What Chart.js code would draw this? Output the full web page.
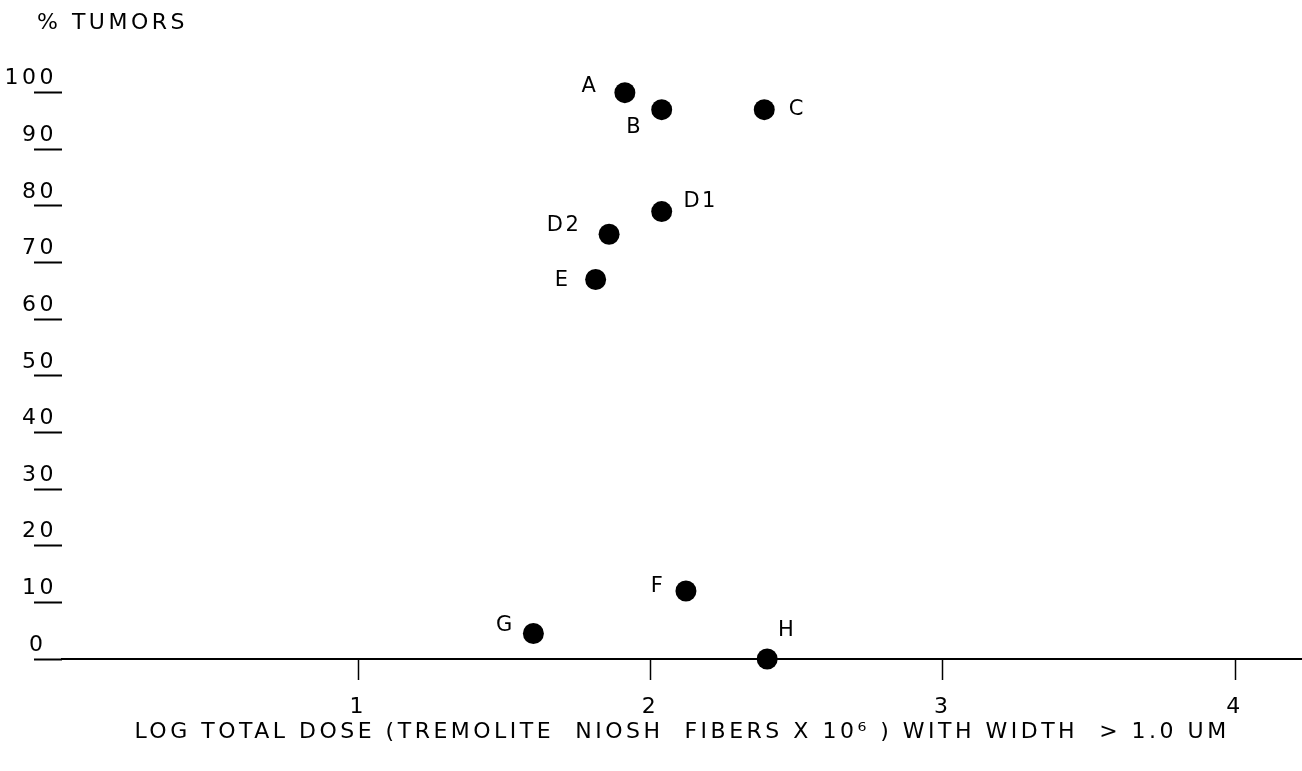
<!DOCTYPE html>
<html><head><meta charset="utf-8">
<script src="https://cdn.jsdelivr.net/npm/chart.js@4/dist/chart.umd.min.js"></script>
<style>html,body{margin:0;padding:0;background:#fff;overflow:hidden}#wrap{width:1302px;height:771px;overflow:hidden}canvas{display:block}</style>
</head><body><div id="wrap"><canvas id="c" width="1302" height="771"></canvas></div>
<script>
// ---- data ----
const pointLabels = ['A', 'B', 'C', 'D1', 'D2', 'E', 'F', 'G', 'H'];
const logDose     = [1.912, 2.038, 2.389, 2.038, 1.858, 1.812, 2.121, 1.599, 2.399];
const pctTumors   = [100, 97, 97, 79, 75, 67, 12, 4.5, 0];
const xTickValues = [1, 2, 3, 4];
const yTickValues = [0, 10, 20, 30, 40, 50, 60, 70, 80, 90, 100];
const yTitleText  = '% TUMORS';
const xTitleText  = 'LOG TOTAL DOSE (TREMOLITE  NIOSH  FIBERS X 10\u2076 ) WITH WIDTH  > 1.0 UM';

// ---- style ----
const FONT = '"DejaVu Sans", sans-serif';
const INK = '#000';
const SPACING = '3.5px';
const labelOffsets = { A: [-35, -6], B: [-27, 18], C: [33, 0], D1: [39, -10], D2: [-45, -9], E: [-33, 1], F: [-28, -4], G: [-28, -8], H: [20, -28] };

const textPlugin = {
  id: 'textPlugin',
  beforeInit(chart) { chart.ctx.letterSpacing = SPACING; },
  beforeLayout(chart) { chart.ctx.letterSpacing = SPACING; },
  beforeDraw(chart) { chart.ctx.letterSpacing = SPACING; },
  afterDatasetsDraw(chart) {
    const ctx = chart.ctx;
    const meta = chart.getDatasetMeta(0);
    ctx.save();
    ctx.letterSpacing = '2.5px';
    ctx.font = '21px ' + FONT;
    ctx.fillStyle = INK;
    ctx.textAlign = 'center';
    ctx.textBaseline = 'middle';
    meta.data.forEach((el, i) => {
      const lab = pointLabels[i];
      const o = labelOffsets[lab] || [0, 0];
      ctx.fillText(lab, el.x + o[0], el.y + o[1]);
    });
    ctx.letterSpacing = SPACING;
    ctx.font = '22px ' + FONT;
    ctx.textAlign = 'left';
    ctx.fillText(yTitleText, 37, 23);
    ctx.restore();
  }
};

new Chart(document.getElementById('c'), {
  type: 'scatter',
  data: {
    datasets: [{
      data: logDose.map((x, i) => ({ x, y: pctTumors[i] })),
      backgroundColor: INK,
      borderWidth: 0,
      pointRadius: 10.5,
      pointHoverRadius: 10.5,
      clip: false
    }]
  },
  options: {
    responsive: false,
    devicePixelRatio: 1,
    animation: false,
    layout: { autoPadding: false, padding: { top: 36, right: 0, bottom: 0, left: 0 } },
    plugins: { legend: { display: false }, tooltip: { enabled: false } },
    scales: {
      x: {
        type: 'linear',
        min: -0.014, max: 4.229,
        afterBuildTicks: s => { s.ticks = xTickValues.map(v => ({ value: v })); },
        afterFit: s => { s.height = 112; s.paddingLeft = 0; s.paddingRight = 0; },
        border: { display: true, color: INK, width: 2 },
        grid: { drawOnChartArea: false, drawTicks: true, tickLength: 21, tickWidth: 1.5, tickColor: INK },
        ticks: { color: INK, font: { family: FONT, size: 22 }, padding: 14, maxRotation: 0, autoSkip: false },
        title: { display: true, text: xTitleText, color: INK, font: { family: FONT, size: 22 }, padding: { top: 0, bottom: 26 } }
      },
      y: {
        type: 'linear',
        min: 0, max: 110,
        afterBuildTicks: s => { s.ticks = yTickValues.map(v => ({ value: v })); },
        afterFit: s => { s.width = 62; },
        border: { display: false },
        grid: { drawOnChartArea: false, drawTicks: true, tickLength: 28, tickWidth: 2, tickColor: INK },
        ticks: { color: INK, font: { family: FONT, size: 22 }, padding: -23, labelOffset: -14, autoSkip: false,
          callback: v => (v === 0 ? '0 ' : String(v)) }
      }
    }
  },
  plugins: [textPlugin]
});
</script>
</body></html>
